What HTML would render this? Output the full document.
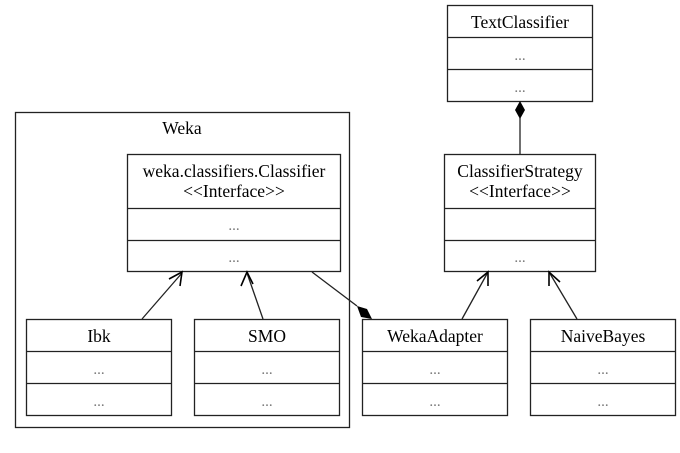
<!DOCTYPE html>
<html><head><meta charset="utf-8"><style>
html,body{margin:0;padding:0;background:#fff;width:680px;height:453px;overflow:hidden}
text{font-family:"Liberation Serif",serif;font-size:17.5px;fill:#000}
.d{fill:#777;font-size:15px}
</style></head><body>
<svg width="680" height="453" viewBox="0 0 680 453" xmlns="http://www.w3.org/2000/svg">
<g fill="none" stroke="#222" stroke-width="1.3">
<rect x="15.5" y="112.5" width="334" height="315"/>
<rect x="447.5" y="5.5" width="145" height="96"/>
<line x1="447" y1="37.5" x2="593" y2="37.5"/><line x1="447" y1="69.5" x2="593" y2="69.5"/>
<rect x="444.5" y="154.5" width="151" height="117"/>
<line x1="444" y1="208.5" x2="596" y2="208.5"/><line x1="444" y1="240.5" x2="596" y2="240.5"/>
<rect x="127.5" y="154.5" width="213" height="117"/>
<line x1="127" y1="208.5" x2="341" y2="208.5"/><line x1="127" y1="240.5" x2="341" y2="240.5"/>
<rect x="26.5" y="319.5" width="145" height="96"/>
<line x1="26" y1="351.5" x2="172" y2="351.5"/><line x1="26" y1="383.5" x2="172" y2="383.5"/>
<rect x="194.5" y="319.5" width="145" height="96"/>
<line x1="194" y1="351.5" x2="340" y2="351.5"/><line x1="194" y1="383.5" x2="340" y2="383.5"/>
<rect x="362.5" y="319.5" width="145" height="96"/>
<line x1="362" y1="351.5" x2="508" y2="351.5"/><line x1="362" y1="383.5" x2="508" y2="383.5"/>
<rect x="530.5" y="319.5" width="145" height="96"/>
<line x1="530" y1="351.5" x2="676" y2="351.5"/><line x1="530" y1="383.5" x2="676" y2="383.5"/>
<line x1="520" y1="118" x2="520" y2="154"/>
<line x1="142" y1="319" x2="182" y2="273"/>
<line x1="263" y1="319" x2="247" y2="273"/>
<line x1="312" y1="272" x2="357" y2="306"/>
<line x1="462" y1="319" x2="488" y2="272"/>
<line x1="577" y1="319" x2="549" y2="272"/>
</g>
<g fill="#000">
<polygon points="520,101 525,110 520,119 515,110"/>
<polygon points="357,306 367,309 372,319 361,317"/>
</g>
<g fill="none" stroke="#000" stroke-width="1.6">
<polyline points="169,279 182,272 180,286"/>
<polyline points="241,286 247,272 253,284"/>
<polyline points="477,281 488,272 488,286"/>
<polyline points="549,286 549,272 560,282"/>
</g>
<g text-anchor="middle">
<text x="520" y="28">TextClassifier</text>
<text class="d" x="520" y="60">...</text><text class="d" x="520" y="92">...</text>
<text x="182" y="134">Weka</text>
<text x="520" y="177">ClassifierStrategy</text>
<text x="520" y="197">&lt;&lt;Interface&gt;&gt;</text>
<text class="d" x="520" y="262">...</text>
<text x="234" y="177">weka.classifiers.Classifier</text>
<text x="234" y="197">&lt;&lt;Interface&gt;&gt;</text>
<text class="d" x="234" y="230">...</text><text class="d" x="234" y="262">...</text>
<text x="99" y="342">Ibk</text>
<text class="d" x="99" y="374">...</text><text class="d" x="99" y="406">...</text>
<text x="267" y="342">SMO</text>
<text class="d" x="267" y="374">...</text><text class="d" x="267" y="406">...</text>
<text x="435" y="342">WekaAdapter</text>
<text class="d" x="435" y="374">...</text><text class="d" x="435" y="406">...</text>
<text x="603" y="342">NaiveBayes</text>
<text class="d" x="603" y="374">...</text><text class="d" x="603" y="406">...</text>
</g>
</svg>
</body></html>
